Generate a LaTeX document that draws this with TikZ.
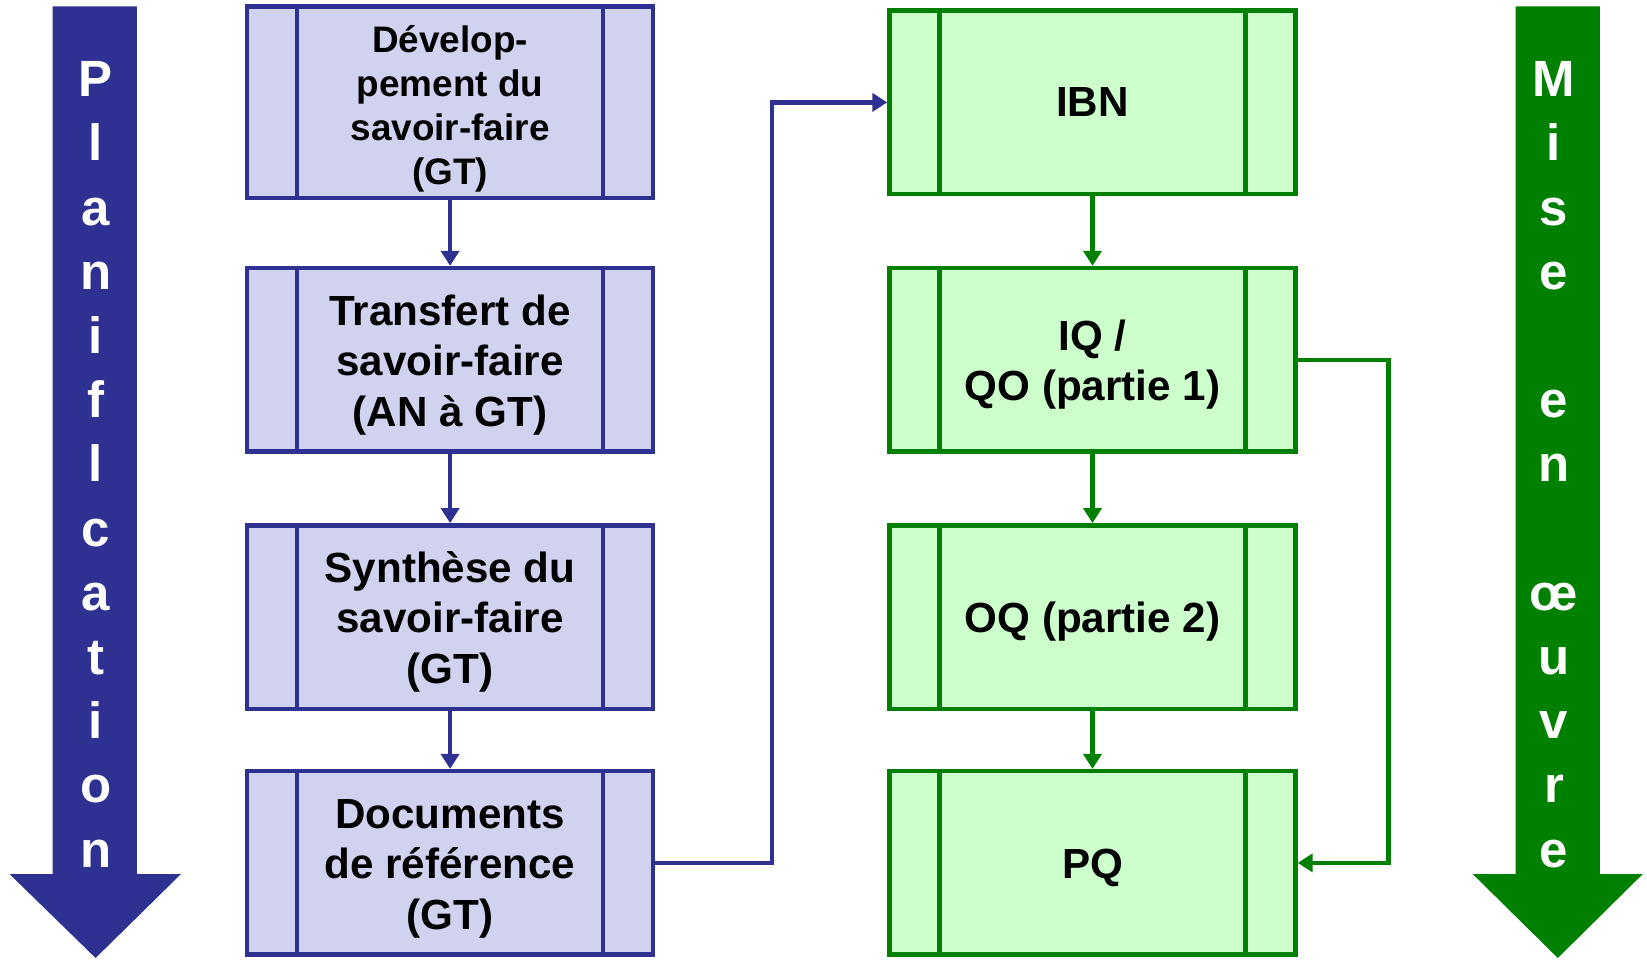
\documentclass[tikz,border=0pt]{standalone}
\usepackage{fontspec}
\setmainfont{Liberation Sans}
\usetikzlibrary{arrows.meta}
\definecolor{navy}{RGB}{46,49,146}
\definecolor{lavender}{RGB}{208,210,240}
\definecolor{dgreen}{RGB}{0,128,0}
\definecolor{lgreen}{RGB}{204,255,204}
\newcommand{\topstrut}{\rule{0pt}{23pt}}

\begin{document}
\begin{tikzpicture}[x=0.02cm,y=-0.02cm,
    proc/.style={rectangle,draw=#1,line width=0.09cm,minimum width=8.12cm,minimum height=3.67cm,
      align=center,font=\bfseries\fontsize{24}{28.7}\selectfont,
      path picture={
        \draw[#1,line width=0.09cm] ([xshift=1cm]path picture bounding box.north west) -- ([xshift=1cm]path picture bounding box.south west);
        \draw[#1,line width=0.09cm] ([xshift=-1cm]path picture bounding box.north east) -- ([xshift=-1cm]path picture bounding box.south east);}},
    blueproc/.style={proc=navy,fill=lavender},
    greenproc/.style={proc=dgreen,fill=lgreen},
    flow/.style={line width=0.09cm,-{Triangle[length=0.3cm,width=0.36cm]}},
    letter/.style={text=white,font=\bfseries\fontsize{29}{35}\selectfont,anchor=base}]
  \useasboundingbox (0,0) rectangle (1647,960);

  % side arrows
  \fill[navy] (52.5,6.3) -- (136.8,6.3) -- (136.8,874) -- (181,874) -- (95.6,958) -- (9.5,874) -- (52.5,874) -- cycle;
  \fill[dgreen] (1515.7,6.3) -- (1599.8,6.3) -- (1599.8,874) -- (1642.8,874) -- (1557.8,958) -- (1472.7,874) -- (1515.7,874) -- cycle;
  \foreach \c [count=\i] in {P,l,a,n,i,f,l,c,a,t,i,o,n}
    \node[letter] (plan\i) at (95.6,{96.6+64.2*(\i-1)}) {\c};
  \foreach \c/\i in {M/1,i/2,s/3,e/4,e/6,n/7,œ/9,u/10,v/11,r/12,e/13}
    \node[letter] (mise\i) at (1554,{96.6+64.2*(\i-1)}) {\c};

  % planning column
  \node[blueproc,font=\bfseries\fontsize{21}{25}\selectfont] (dev) at (450.1,102.4) {\topstrut Dévelop-\\pement du\\savoir-faire\\(GT)};
  \node[blueproc] (trans) at (450.1,359.8) {\topstrut Transfert de\\savoir-faire\\(AN à GT)};
  \node[blueproc] (synth) at (450.1,617.1) {\topstrut Synthèse du\\savoir-faire\\(GT)};
  \node[blueproc] (doc) at (450.1,862.9) {\topstrut Documents\\de référence\\(GT)};

  % implementation column
  \node[greenproc] (ibn) at (1092.5,102.4) {IBN};
  \node[greenproc] (iq) at (1092.5,359.8) {\topstrut IQ /\\QO (partie 1)};
  \node[greenproc] (oq) at (1092.5,617.1) {\topstrut OQ (partie 2)};
  \node[greenproc] (pq) at (1092.5,862.9) {\topstrut PQ};

  \draw[flow,navy] (dev) -- (trans);
  \draw[flow,navy] (trans) -- (synth);
  \draw[flow,navy] (synth) -- (doc);
  \draw[flow,dgreen] (ibn) -- (iq);
  \draw[flow,dgreen] (iq) -- (oq);
  \draw[flow,dgreen] (oq) -- (pq);

  \coordinate (bluex) at (772,0);
  \draw[flow,navy] (doc.east) -- (doc.east -| bluex) |- (ibn.west);
  \coordinate (greenx) at (1388.6,0);
  \draw[flow,dgreen] (iq.east) -- (iq.east -| greenx) |- (pq.east);
\end{tikzpicture}
\end{document}
